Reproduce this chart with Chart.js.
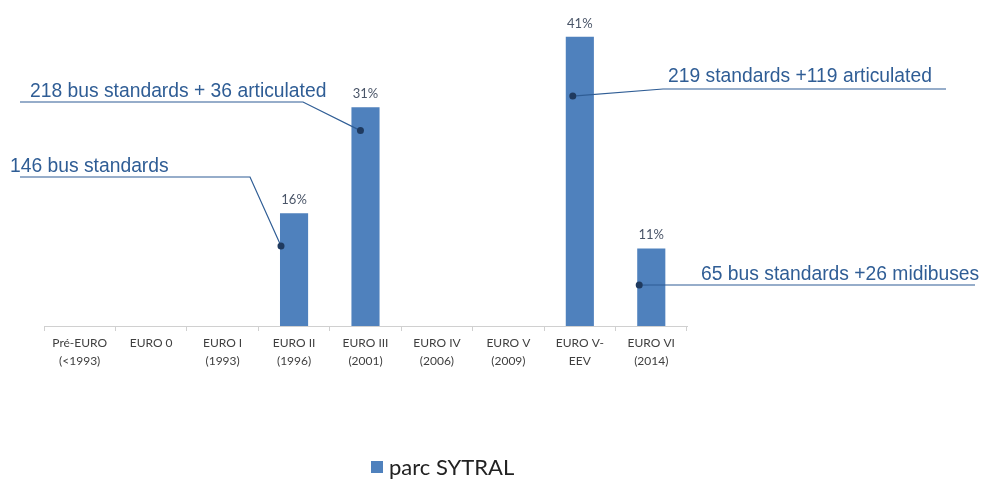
<!DOCTYPE html>
<html>
<head>
<meta charset="utf-8">
<script src="https://cdn.jsdelivr.net/npm/chart.js@4"></script>
<style>
  body { margin: 0; background: #fff; }
  #wrap { width: 982px; height: 479px; position: relative; }
</style>
</head>
<body>
<div id="wrap"><canvas id="chart"></canvas></div>
<script>
// categories (two-line tick labels)
const categories = [
  ['Pré-EURO', '(<1993)'],
  ['EURO 0', ''],
  ['EURO I', '(1993)'],
  ['EURO II', '(1996)'],
  ['EURO III', '(2001)'],
  ['EURO IV', '(2006)'],
  ['EURO V', '(2009)'],
  ['EURO V-', 'EEV'],
  ['EURO VI', '(2014)']
];
// share of the SYTRAL fleet, in %
const parcSytral = [null, null, null, 16, 31, null, null, 41, 11];
const seriesName = 'parc SYTRAL';
const notes = [
  '146 bus standards',
  '218 bus standards + 36 articulated',
  '219 standards +119 articulated',
  '65 bus standards +26 midibuses'
];

const barColor = '#4f81bd';
const noteColor = '#2f5d95';

// callouts: which bar they point at, and where the text sits
const callouts = [
  { idx: 3, note: 0, dx: 1, v: 11.35, textX: 10, textY: 172, lineY: 177, from: 20, elbow: 250 },
  { idx: 4, note: 1, dx: 9, v: 27.7, textX: 30, textY: 97, lineY: 102, from: 20, elbow: 303 },
  { idx: 7, note: 2, dx: 7, v: 32.6, textX: 668, textY: 82, lineY: 89, from: 946, elbow: 663 },
  { idx: 8, note: 3, dx: 2, v: 5.8, textX: 701, textY: 280, lineY: 285, from: 975, elbow: 650 }
];

const extras = {
  id: 'extras',
  afterDatasetsDraw(chart) {
    const ctx = chart.ctx;
    const meta = chart.getDatasetMeta(0);
    const y = chart.scales.y;
    ctx.save();
    // value labels
    ctx.font = '13px Lato';
    ctx.fillStyle = '#4a5568';
    ctx.textAlign = 'center';
    ctx.textBaseline = 'alphabetic';
    meta.data.forEach((bar, i) => {
      const v = parcSytral[i];
      if (v == null) return;
      ctx.fillText(v + '%', bar.x, bar.y - 9);
    });
    // callouts
    callouts.forEach(c => {
      const bar = meta.data[c.idx];
      const px = bar.x - bar.width / 2 + c.dx;
      const py = y.getPixelForValue(c.v);
      ctx.strokeStyle = noteColor;
      ctx.lineWidth = 1.2;
      ctx.beginPath();
      ctx.moveTo(c.from, c.lineY);
      ctx.lineTo(c.elbow, c.lineY);
      ctx.lineTo(px, py);
      ctx.stroke();
      ctx.fillStyle = '#1f3a5f';
      ctx.beginPath();
      ctx.arc(px, py, 3.5, 0, Math.PI * 2);
      ctx.fill();
      ctx.fillStyle = noteColor;
      ctx.font = '19.3px "Liberation Sans", Arial, sans-serif';
      ctx.textAlign = 'left';
      ctx.fillText(notes[c.note], c.textX, c.textY);
    });
    // legend
    ctx.fillStyle = barColor;
    ctx.fillRect(371, 461, 12, 12);
    ctx.fillStyle = '#222';
    ctx.font = '22px Lato';
    ctx.textAlign = 'left';
    ctx.fillText(seriesName, 389, 475);
    ctx.restore();
  }
};

const chart = new Chart(document.getElementById('chart').getContext('2d'), {
  type: 'bar',
  data: {
    labels: categories,
    datasets: [{
      label: seriesName,
      data: parcSytral,
      backgroundColor: barColor,
      barPercentage: 0.48,
      categoryPercentage: 0.82
    }]
  },
  options: {
    responsive: true,
    maintainAspectRatio: false,
    animation: false,
    layout: { padding: { left: 44, right: 295, top: 10, bottom: 0 } },
    plugins: { legend: { display: false }, tooltip: { enabled: false } },
    scales: {
      x: {
        afterFit(scale) { scale.height = 153; },
        grid: { offset: true, drawOnChartArea: false, drawTicks: true, tickLength: 5, color: '#d0d0d0' },
        border: { color: '#d0d0d0' },
        ticks: { color: '#404040', font: { family: 'Lato', size: 12, lineHeight: 1.5 }, padding: 3, maxRotation: 0 }
      },
      y: {
        display: false,
        min: 0,
        max: 44.8
      }
    }
  },
  plugins: [extras]
});
</script>
</body>
</html>
